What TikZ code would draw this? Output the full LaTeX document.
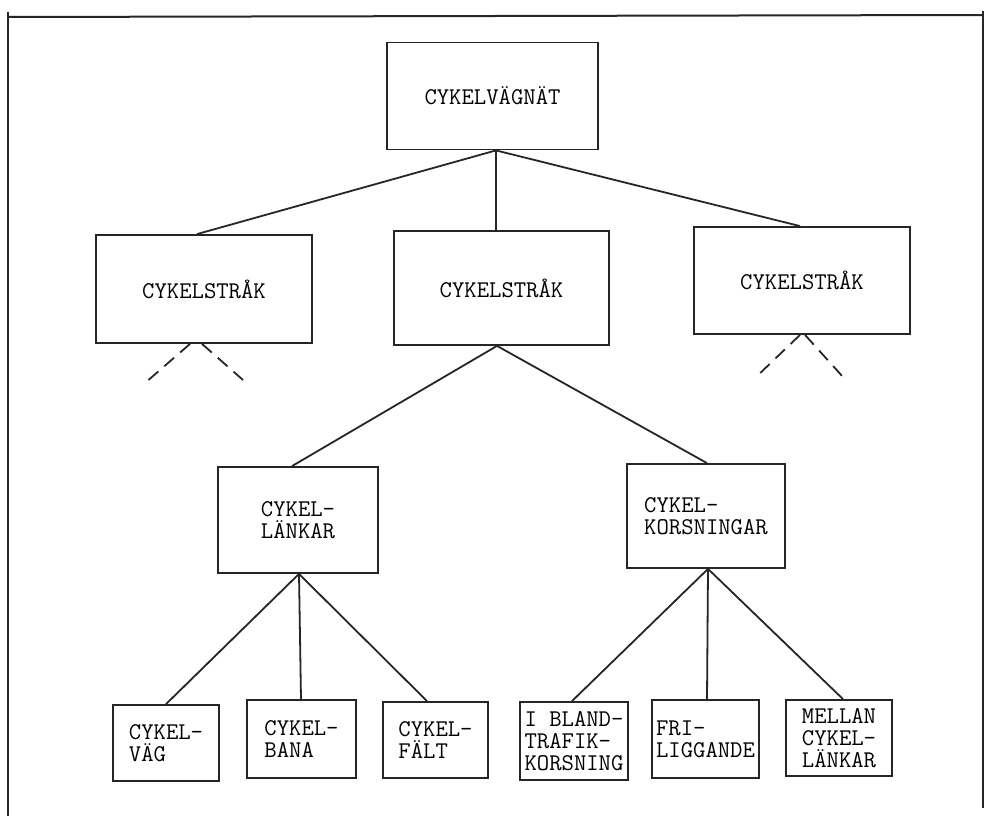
\documentclass[tikz,border=0pt]{standalone}
\usepackage{fontspec}
\begin{document}
\begin{tikzpicture}[x=1pt,y=-1pt,
  box/.style={draw=black!85, line width=1.8pt, inner sep=0pt, align=left,
    font=\ttfamily\fontsize{24}{22}\selectfont},
  link/.style={draw=black!85, line width=1.8pt},
  dashlink/.style={draw=black!85, line width=1.8pt, dash pattern=on 13pt off 8pt},
  frame/.style={draw=black!85, line width=2pt}]
\useasboundingbox[fill=white] (0,0) rectangle (987,816);
% frame
\draw[frame] (8,17) -- (983,15);
\draw[frame] (8,12) -- (8,816);
\draw[frame] (983,11) -- (983,808);
% nodes
\node[box, minimum width=211pt, minimum height=107pt] (top) at (492.5,96) {CYKELVÄGNÄT};
\node[box, minimum width=216pt, minimum height=108pt] (l1) at (204,289) {CYKELSTRÅK};
\node[box, minimum width=215pt, minimum height=114pt] (m1) at (501.5,288) {CYKELSTRÅK};
\node[box, minimum width=216pt, minimum height=107pt] (r1) at (802,280.5) {CYKELSTRÅK};
\node[box, minimum width=160pt, minimum height=106pt] (cl) at (298,520) {CYKEL-\\LÄNKAR};
\node[box, minimum width=158pt, minimum height=104pt] (ck) at (706,516) {CYKEL-\\KORSNINGAR};
\node[box, minimum width=106pt, minimum height=76pt] (vag) at (166,743) {CYKEL-\\VÄG};
\node[box, minimum width=109pt, minimum height=78pt] (bana) at (301.5,739) {CYKEL-\\BANA};
\node[box, minimum width=105pt, minimum height=76pt] (falt) at (435.5,740) {CYKEL-\\FÄLT};
\node[box, minimum width=108pt, minimum height=78pt] (ibl) at (574,741) {I BLAND-\\TRAFIK-\\KORSNING};
\node[box, minimum width=107pt, minimum height=78pt] (fri) at (705.5,739) {FRI-\\LIGGANDE};
\node[box, minimum width=106pt, minimum height=76pt] (mel) at (839,738) {MELLAN\\CYKEL-\\LÄNKAR};
% connectors level 1
\draw[link] ([xshift=3.5pt]top.south) -- ([xshift=-7pt]l1.north);
\draw[link] ([xshift=3.5pt]top.south) -- ([xshift=-5.5pt]m1.north);
\draw[link] ([xshift=3.5pt]top.south) -- ([xshift=-2pt]r1.north);
% level 2
\draw[link] ([xshift=-4.5pt]m1.south) -- ([xshift=-6pt]cl.north);
\draw[link] ([xshift=-4.5pt]m1.south) -- ([xshift=1pt]ck.north);
% level 3
\draw[link] ([xshift=1pt]cl.south) -- ([xshift=0pt]vag.north);
\draw[link] ([xshift=1pt]cl.south) -- ([xshift=-0.5pt]bana.north);
\draw[link] ([xshift=1pt]cl.south) -- ([xshift=-8.5pt]falt.north);
\draw[link] ([xshift=2pt]ck.south) -- ([xshift=-2pt]ibl.north);
\draw[link] ([xshift=2pt]ck.south) -- ([xshift=1.5pt]fri.north);
\draw[link] ([xshift=2pt]ck.south) -- ([xshift=4pt]mel.north);
% dashed continuations
\coordinate (l1a) at (145,383);
\coordinate (l1b) at (243,380);
\coordinate (r1a) at (755,378);
\coordinate (r1b) at (843,377);
\draw[dashlink] ([xshift=-14pt]l1.south) -- (l1a);
\draw[dashlink] ([xshift=-2pt]l1.south) -- (l1b);
\draw[dashlink] ([xshift=-2pt]r1.south) -- (r1a);
\draw[dashlink] ([xshift=3pt]r1.south) -- (r1b);
\end{tikzpicture}
\end{document}
